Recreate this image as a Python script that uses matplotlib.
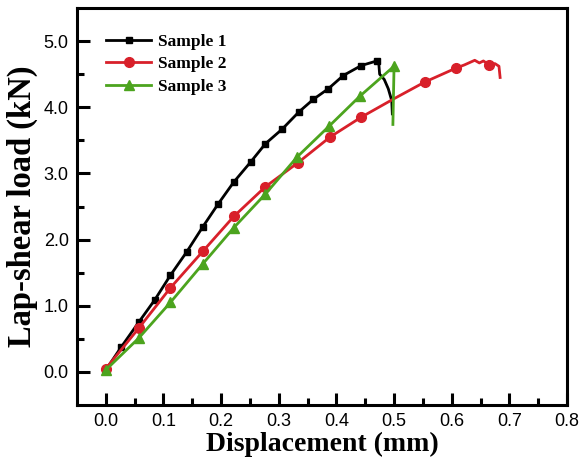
import matplotlib
matplotlib.use("Agg")
import matplotlib.pyplot as plt

# Sample 1 (black squares)
s1_x = [0.0, 0.027, 0.057, 0.085, 0.112, 0.140, 0.168, 0.195, 0.222, 0.251,
        0.277, 0.306, 0.335, 0.360, 0.386, 0.412, 0.443, 0.470,
        0.473, 0.475, 0.483, 0.490, 0.496, 0.497]
s1_y = [0.03, 0.38, 0.75, 1.09, 1.46, 1.81, 2.19, 2.54, 2.87, 3.17,
        3.45, 3.67, 3.93, 4.12, 4.28, 4.48, 4.63, 4.70,
        4.72, 4.50, 4.42, 4.28, 4.10, 3.90]
s1_marks = list(range(18))

# Sample 2 (red circles)
s2_x = [0.0, 0.057, 0.112, 0.168, 0.222, 0.277, 0.333, 0.389, 0.443, 0.498,
        0.553, 0.607, 0.622, 0.640, 0.648, 0.655, 0.665, 0.675, 0.682, 0.684]
s2_y = [0.05, 0.66, 1.27, 1.82, 2.35, 2.80, 3.16, 3.55, 3.85, 4.12,
        4.38, 4.59, 4.64, 4.71, 4.67, 4.70, 4.64, 4.66, 4.62, 4.45]
s2_marks = [0, 1, 2, 3, 4, 5, 6, 7, 8, 10, 11, 16]

# Sample 3 (green triangles)
s3_x = [0.0, 0.057, 0.112, 0.168, 0.222, 0.277, 0.332, 0.388, 0.441, 0.500, 0.498]
s3_y = [0.03, 0.51, 1.05, 1.63, 2.18, 2.69, 3.25, 3.72, 4.17, 4.62, 3.74]
s3_marks = list(range(10))

fig = plt.figure(figsize=(5.82, 4.66), dpi=100)
ax = fig.add_axes([0.1323, 0.1309, 0.8419, 0.8519])

ax.plot(s1_x, s1_y, color='black', lw=2.0, marker='s', ms=5,
        markevery=s1_marks, label='Sample 1')
ax.plot(s2_x, s2_y, color='#d8202a', lw=2.0, marker='o', ms=7,
        markevery=s2_marks, label='Sample 2')
ax.plot(s3_x, s3_y, color='#4ca41e', lw=2.0, marker='^', ms=7,
        markevery=s3_marks, label='Sample 3')

ax.set_xlim(-0.05, 0.8)
ax.set_ylim(-0.5, 5.5)
ax.set_xticks([0.0, 0.1, 0.2, 0.3, 0.4, 0.5, 0.6, 0.7, 0.8])
ax.set_xticks([0.05, 0.15, 0.25, 0.35, 0.45, 0.55, 0.65, 0.75], minor=True)
ax.set_yticks([0.0, 1.0, 2.0, 3.0, 4.0, 5.0])
ax.set_yticks([0.5, 1.5, 2.5, 3.5, 4.5], minor=True)
ax.set_xticklabels(['0.0', '0.1', '0.2', '0.3', '0.4', '0.5', '0.6', '0.7', '0.8'],
                   family='Liberation Sans', fontsize=13)
ax.set_yticklabels(['0.0', '1.0', '2.0', '3.0', '4.0', '5.0'],
                   family='Liberation Sans', fontsize=13)
ax.tick_params(which='major', direction='in', length=9, width=2.2, pad=6)
ax.tick_params(which='minor', direction='in', length=5, width=2.2)
for sp in ax.spines.values():
    sp.set_linewidth(2.2)

ax.set_xlabel('Displacement (mm)', family='Liberation Serif', fontweight='bold',
              fontsize=20, labelpad=1)
ax.set_ylabel('Lap-shear load (kN)', family='Liberation Serif', fontweight='bold',
              fontsize=23.5, labelpad=4)

ax.legend(loc='upper left', frameon=False, handlelength=2.6, handletextpad=0.4,
          labelspacing=0.35, borderaxespad=0.3, bbox_to_anchor=(0.035, 0.965),
          prop={'family': 'Liberation Serif', 'weight': 'bold', 'size': 12.5})

fig.savefig('out.png', dpi=100)
